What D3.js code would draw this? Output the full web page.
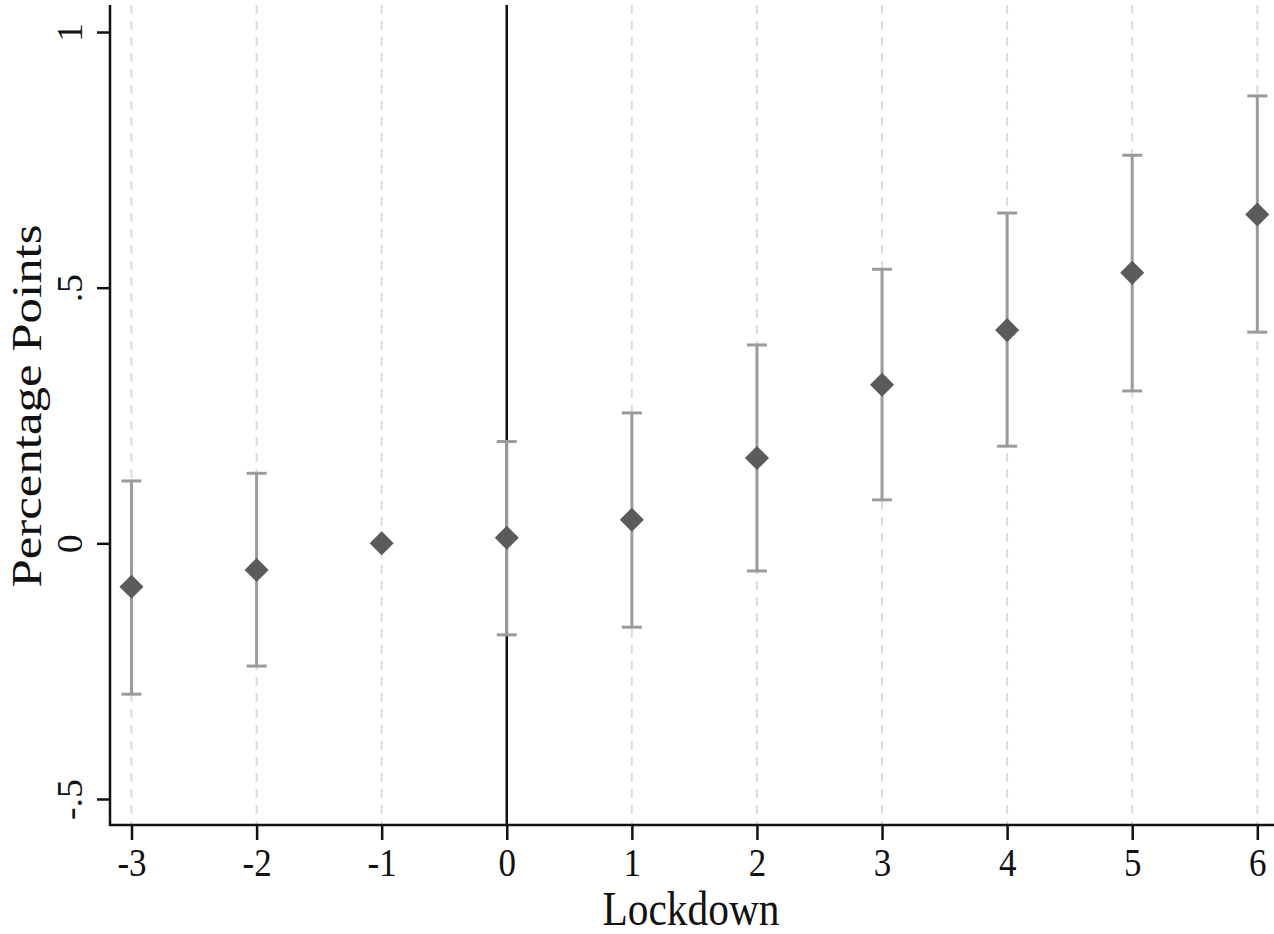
<!DOCTYPE html>
<html>
<head>
<meta charset="utf-8">
<script src="https://cdn.jsdelivr.net/npm/d3@7"></script>
<style>
  html, body { margin: 0; padding: 0; background: #fff; }
  svg { display: block; font-family: "Liberation Serif", "Times New Roman", serif; }
</style>
</head>
<body>
<div id="chart"></div>
<script>
// event time relative to lockdown
const periods = [-3, -2, -1, 0, 1, 2, 3, 4, 5, 6];
// point estimates (percentage points)
const estimates = [-0.085, -0.052, 0, 0.011, 0.046, 0.167, 0.310, 0.417, 0.529, 0.643];
// confidence interval bounds (null = reference period)
const ciLow = [-0.295, -0.240, null, -0.179, -0.164, -0.054, 0.085, 0.190, 0.298, 0.413];
const ciHigh = [0.122, 0.137, null, 0.199, 0.255, 0.388, 0.536, 0.646, 0.759, 0.875];
const xTickLabels = ['-3', '-2', '-1', '0', '1', '2', '3', '4', '5', '6'];
const yTicks = [-0.5, 0, 0.5, 1];
const yTickLabels = ['-.5', '0', '.5', '1'];

const width = 1274;
const height = 934;
const axisX = 110;
const axisY = 825;
const plotTop = 5;

const x = d3.scaleLinear().domain([-3, 6]).range([131.5, 1257.3]);
const y = d3.scaleLinear().domain([-0.5, 1]).range([799, 32]);

const svg = d3.select('#chart').append('svg')
  .attr('width', width)
  .attr('height', height);

// dashed grid at each period
svg.append('g')
  .selectAll('line')
  .data(periods)
  .enter().append('line')
  .attr('x1', d => x(d))
  .attr('x2', d => x(d))
  .attr('y1', plotTop)
  .attr('y2', axisY)
  .attr('stroke', '#dcdcdc')
  .attr('stroke-width', 2)
  .attr('stroke-dasharray', '9,7');

// lockdown line
svg.append('line')
  .attr('x1', x(0)).attr('x2', x(0))
  .attr('y1', plotTop).attr('y2', axisY)
  .attr('stroke', '#111')
  .attr('stroke-width', 2.5);

// axes
const xAxis = d3.axisBottom(x)
  .tickValues(periods)
  .tickSize(15)
  .tickFormat((d, i) => xTickLabels[i]);

const gx = svg.append('g')
  .attr('transform', `translate(0,${axisY})`)
  .call(xAxis);
gx.select('.domain').remove();
gx.append('line')
  .attr('x1', axisX - 1).attr('x2', width)
  .attr('stroke', '#111').attr('stroke-width', 2.5);
gx.selectAll('.tick line').attr('stroke', '#111').attr('stroke-width', 2.5);
gx.selectAll('.tick text')
  .attr('fill', '#111')
  .attr('y', null).attr('dy', null)
  .attr('transform', 'translate(0,51) scale(1,1.15)')
  .style('font-family', '"Liberation Serif", serif')
  .style('font-size', '35px');

const yAxis = d3.axisLeft(y)
  .tickValues(yTicks)
  .tickSize(13)
  .tickPadding(0)
  .tickFormat((d, i) => yTickLabels[i]);

const gy = svg.append('g')
  .attr('transform', `translate(${axisX},0)`)
  .call(yAxis);
gy.select('.domain').remove();
gy.append('line')
  .attr('y1', plotTop).attr('y2', axisY + 1)
  .attr('stroke', '#111').attr('stroke-width', 2.5);
gy.selectAll('.tick line').attr('stroke', '#111').attr('stroke-width', 2.5);
gy.selectAll('.tick text')
  .attr('fill', '#111')
  .attr('x', null).attr('dy', null)
  .attr('text-anchor', 'middle')
  .attr('transform', 'translate(-28,0) rotate(-90) scale(1.05,1)')
  .style('font-family', '"Liberation Serif", serif')
  .style('font-size', '36px');

// confidence intervals
const ciData = periods.map((p, i) => ({ p, lo: ciLow[i], hi: ciHigh[i] }))
  .filter(d => d.lo !== null);

const ci = svg.append('g')
  .attr('stroke', '#9b9b9b')
  .attr('stroke-width', 3);

ci.selectAll('.bar')
  .data(ciData)
  .enter().append('line')
  .attr('x1', d => x(d.p)).attr('x2', d => x(d.p))
  .attr('y1', d => y(d.lo)).attr('y2', d => y(d.hi));

ci.selectAll('.capHi')
  .data(ciData)
  .enter().append('line')
  .attr('x1', d => x(d.p) - 10).attr('x2', d => x(d.p) + 10)
  .attr('y1', d => y(d.hi)).attr('y2', d => y(d.hi));

ci.selectAll('.capLo')
  .data(ciData)
  .enter().append('line')
  .attr('x1', d => x(d.p) - 10).attr('x2', d => x(d.p) + 10)
  .attr('y1', d => y(d.lo)).attr('y2', d => y(d.lo));

// point estimates as diamonds
const diamond = d3.symbol().type(d3.symbolSquare).size(290);
svg.append('g')
  .selectAll('path')
  .data(periods)
  .enter().append('path')
  .attr('d', diamond)
  .attr('transform', (d, i) => `translate(${x(d)},${y(estimates[i])}) rotate(45)`)
  .attr('fill', '#5b5b5b');

// axis titles
svg.append('text')
  .attr('transform', 'translate(691,925) scale(1,1.1)')
  .attr('text-anchor', 'middle')
  .attr('textLength', 177)
  .attr('lengthAdjust', 'spacingAndGlyphs')
  .style('font-size', '44px')
  .attr('fill', '#111')
  .text('Lockdown');

svg.append('text')
  .attr('transform', 'translate(41,406) rotate(-90)')
  .attr('text-anchor', 'middle')
  .attr('textLength', 363)
  .attr('lengthAdjust', 'spacingAndGlyphs')
  .style('font-size', '42px')
  .attr('fill', '#111')
  .text('Percentage Points');
</script>
</body>
</html>
